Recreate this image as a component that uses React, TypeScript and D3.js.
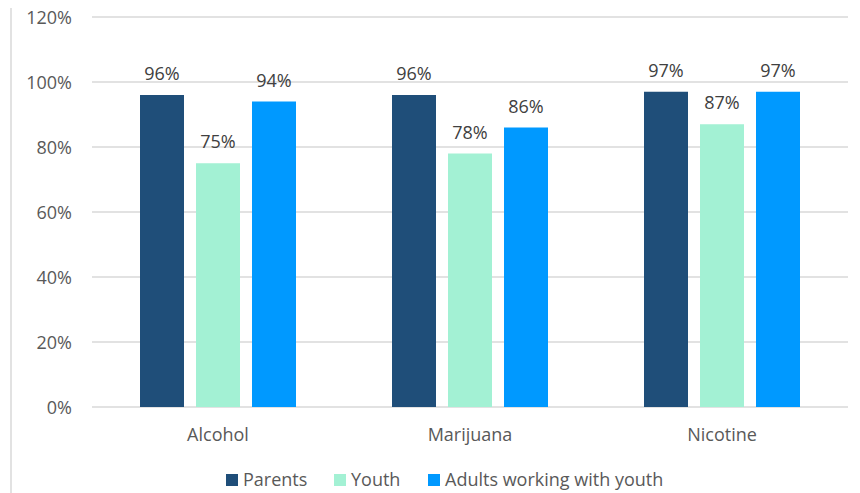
import React, { useEffect, useRef } from "react";
import * as d3 from "d3";

const categories = ["Alcohol", "Marijuana", "Nicotine"];
const seriesNames = ["Parents", "Youth", "Adults working with youth"];
const parents = [96, 96, 97];
const youth = [75, 78, 87];
const adults = [94, 86, 97];
const yTicks = [0, 20, 40, 60, 80, 100, 120];
const colors = ["#1F4E79", "#A3F1D4", "#0099FF"];

const W = 860;
const H = 493;
const FONT = "'Open Sans', sans-serif";
const FS = 18;

export default function App() {
  const ref = useRef<SVGSVGElement | null>(null);

  useEffect(() => {
    const svg = d3.select(ref.current);
    svg.selectAll("*").remove();

    const left = 92, right = 848, top = 17, bottom = 407;
    const series = [parents, youth, adults];

    const x = d3.scaleBand<string>().domain(categories).range([left, right]).padding(0);
    const y = d3.scaleLinear().domain([0, 120]).range([bottom, top]);
    const barW = 44, gap = 12;
    const inner = d3.scaleBand<number>().domain([0, 1, 2]).range([0, 3 * barW + 2 * gap]).paddingInner(gap / (barW + gap)).paddingOuter(0);
    const groupW = 3 * barW + 2 * gap;

    svg.append("line").attr("x1", 11).attr("x2", 11).attr("y1", 8).attr("y2", H)
      .attr("stroke", "#d9d9d9").attr("stroke-width", 1.5);

    svg.append("g").selectAll("line").data(yTicks).join("line")
      .attr("x1", left).attr("x2", right)
      .attr("y1", (d) => y(d)).attr("y2", (d) => y(d))
      .attr("stroke", "#d9d9d9").attr("stroke-width", 1.3);

    const texts = svg.append("g");
    texts.selectAll("text.tick").data(yTicks).join("text")
      .attr("class", "tick")
      .attr("x", 72).attr("y", (d) => y(d) + 6.5)
      .attr("text-anchor", "end")
      .attr("font-family", FONT).attr("font-size", FS).attr("fill", "#595959")
      .text((d) => `${d}%`);

    categories.forEach((c, ci) => {
      const gx = (x(c) as number) + x.bandwidth() / 2 - groupW / 2;
      series.forEach((s, si) => {
        const bx = gx + (inner(si) as number);
        svg.append("rect")
          .attr("x", bx).attr("width", inner.bandwidth())
          .attr("y", y(s[ci])).attr("height", bottom - y(s[ci]))
          .attr("fill", colors[si]);
        svg.append("text")
          .attr("x", bx + inner.bandwidth() / 2).attr("y", y(s[ci]) - 15)
          .attr("text-anchor", "middle")
          .attr("font-family", FONT).attr("font-size", FS).attr("fill", "#404040")
          .text(`${s[ci]}%`);
      });
    });

    svg.append("g").selectAll("text").data(categories).join("text")
      .attr("x", (d) => (x(d) as number) + x.bandwidth() / 2)
      .attr("y", 441)
      .attr("text-anchor", "middle")
      .attr("font-family", FONT).attr("font-size", FS).attr("fill", "#595959")
      .text((d) => d);

    const legendX = [226, 334, 428];
    seriesNames.forEach((n, i) => {
      svg.append("rect").attr("x", legendX[i]).attr("y", 474).attr("width", 12).attr("height", 12)
        .attr("fill", colors[i]);
      svg.append("text").attr("x", legendX[i] + 17).attr("y", 486)
        .attr("font-family", FONT).attr("font-size", FS).attr("fill", "#595959")
        .text(n);
    });
  }, []);

  return (
    <svg
      ref={ref}
      width={W}
      height={H}
      style={{ position: "absolute", left: 0, top: 0, background: "#fff" }}
    />
  );
}
